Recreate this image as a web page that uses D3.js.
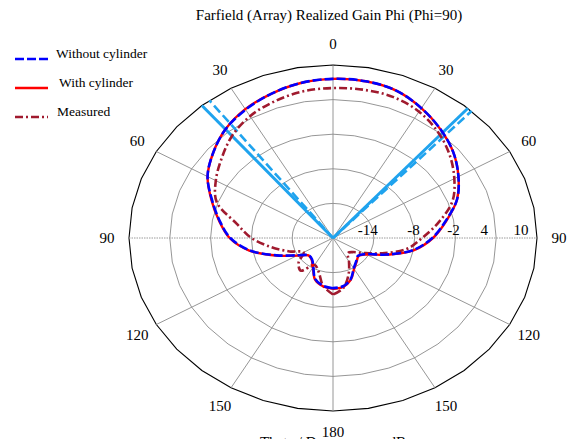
<!DOCTYPE html>
<html><head><meta charset="utf-8">
<script src="https://cdn.jsdelivr.net/npm/d3@7"></script>
<style>
html,body{margin:0;padding:0;background:#fff;}
text{font-family:"Liberation Serif","Times New Roman",serif;fill:#000;}
</style></head>
<body>
<svg id="chart" width="568" height="439"></svg>
<script>
// ---- data ----
const title = "Farfield (Array) Realized Gain Phi (Phi=90)";
const axisTitle = "Theta / Degree   vs.   dB";
const angles = [-180,-170,-160,-150,-140,-130,-120,-110,-100,-90,-80,-70,-60,-50,-40,-30,-20,-10,0,10,20,30,40,50,60,70,80,90,100,110,120,130,140,150,160,170,180];
const withoutCylinder = [-11.3,-11.6,-12.4,-14.2,-15.2,-15.3,-14.0,-11.2,-7.6,-4.9,-3.1,-1.1,1.3,3.0,4.6,5.7,6.6,7.3,7.6,7.6,7.2,6.0,4.6,3.1,1.3,-0.6,-3.2,-5.4,-8.0,-11.6,-14.4,-15.2,-14.7,-13.9,-12.4,-11.5,-11.3];
const withCylinder = [-11.2,-11.5,-12.3,-14.1,-15.1,-15.3,-13.9,-11.1,-7.5,-4.8,-3.0,-1.0,1.3,3.0,4.6,5.8,6.6,7.3,7.6,7.6,7.2,6.0,4.6,3.1,1.3,-0.6,-3.1,-5.3,-7.9,-11.5,-14.3,-15.1,-14.6,-13.8,-12.3,-11.4,-11.2];
const measured = [-10.2,-11.6,-13.8,-14.6,-12.6,-13.4,-15.0,-13.2,-10.8,-8.0,-5.6,-1.8,-0.1,1.4,3.1,4.4,5.2,5.8,6.0,6.1,6.0,5.3,4.0,2.4,0.6,-1.3,-4.2,-6.9,-9.0,-12.3,-14.8,-16.2,-16.6,-15.3,-13.3,-11.2,-10.2];
const ringValues = [-14,-8,-2,4,10];
const spokeAngles = [0,30,60,90,120,150,180,-30,-60,-90,-120,-150];
const angleLabels = ["0","30","60","90","120","150","180","30","60","90","120","150"];
const beamSolid = [-40,41.4];
const beamDashed = [-37.3,42.8];
const legendNames = ["Without cylinder","With cylinder","Measured"];

// ---- layout ----
const W = 568, H = 439;
const cx = 333, cy = 238, RX = 204, RY = 173;
const svg = d3.select("#chart");
svg.append("rect").attr("width",W).attr("height",H).attr("fill","#fff");

const r = d3.scaleLinear().domain([-20,10]).range([0,1]).clamp(true);
const rad = d => d*Math.PI/180;
const px = (a,v) => cx + RX*r(v)*Math.sin(rad(a));
const py = (a,v) => cy - RY*r(v)*Math.cos(rad(a));

// grid rings (polygonal, 10 degree segments)
const ringAngles = d3.range(0,361,10);
const ringLine = d3.line().x(a=>a[0]).y(a=>a[1]);
ringValues.forEach((v,i)=>{
  const pts = ringAngles.map(a=>[px(a,v),py(a,v)]);
  svg.append("path").attr("d",ringLine(pts)+"Z")
    .attr("fill","none")
    .attr("stroke", i===ringValues.length-1 ? "#000" : "#8a8a8a")
    .attr("stroke-width", i===ringValues.length-1 ? 1.1 : 0.9);
});

// spokes
spokeAngles.forEach(a=>{
  if (a===90 || a===-90) return;
  svg.append("line")
    .attr("x1",cx).attr("y1",cy)
    .attr("x2",px(a,10)).attr("y2",py(a,10))
    .attr("stroke","#8a8a8a").attr("stroke-width",0.9);
});
// horizontal axis (dotted)
svg.append("line")
  .attr("x1",px(-90,10)).attr("y1",cy).attr("x2",px(90,10)).attr("y2",cy)
  .attr("stroke","#9a9a9a").attr("stroke-width",1).attr("stroke-dasharray","1.5,1");

// angle labels
spokeAngles.forEach((a,i)=>{
  svg.append("text")
    .attr("x", cx + (RX+22)*Math.sin(rad(a)))
    .attr("y", cy - (RY+21)*Math.cos(rad(a)))
    .attr("text-anchor","middle").attr("dominant-baseline","central")
    .attr("font-size",15).text(angleLabels[i]);
});

// ring labels on the 90 degree axis
ringValues.forEach((v,i)=>{
  const off = [-6,-1,-2,-12,-16][i];
  svg.append("text")
    .attr("x", px(90,v)+off).attr("y", cy-3)
    .attr("text-anchor","middle")
    .attr("font-size",15).text(String(v));
});

// beam lines
const beamColor = "#1fa3ee";
beamSolid.forEach(a=>{
  svg.append("line").attr("x1",cx).attr("y1",cy)
    .attr("x2",px(a,10)).attr("y2",py(a,10))
    .attr("stroke",beamColor).attr("stroke-width",3);
});
beamDashed.forEach(a=>{
  svg.append("line").attr("x1",cx).attr("y1",cy)
    .attr("x2",px(a,10)).attr("y2",py(a,10))
    .attr("stroke",beamColor).attr("stroke-width",2.6).attr("stroke-dasharray","9,4");
});

// curves
const curve = d3.line()
  .x(d=>px(d[0],d[1])).y(d=>py(d[0],d[1]))
  .curve(d3.curveCatmullRom.alpha(0.5));
const zip = vals => angles.map((a,i)=>[a,vals[i]]);

const measColor = "#a01a2e";
svg.append("path").attr("d",curve(zip(measured)))
  .attr("fill","none").attr("stroke",measColor).attr("stroke-width",2.6)
  .attr("stroke-dasharray","8,3,2,3");
svg.append("path").attr("d",curve(zip(withCylinder)))
  .attr("fill","none").attr("stroke","#ff0000").attr("stroke-width",2.4);
svg.append("path").attr("d",curve(zip(withoutCylinder)))
  .attr("fill","none").attr("stroke","#0000ff").attr("stroke-width",2.6)
  .attr("stroke-dasharray","9,3");

// title
svg.append("text").attr("x",329).attr("y",20).attr("text-anchor","middle")
  .attr("font-size",15).text(title);
// axis title (partly below the picture edge, as in the reference)
svg.append("text").attr("x",333).attr("y",447).attr("text-anchor","middle")
  .attr("font-size",15).style("white-space","pre").text(axisTitle);

// legend
const legY = [59,88,117];
const legStyles = [
  {c:"#0000ff",w:2.6,d:"9,3"},
  {c:"#ff0000",w:2.4,d:null},
  {c:measColor,w:2.6,d:"8,3,2,3"}
];
const legTextX = [56,59,57];
legendNames.forEach((n,i)=>{
  const s = legStyles[i];
  const l = svg.append("line").attr("x1",15).attr("x2",48)
    .attr("y1",legY[i]).attr("y2",legY[i])
    .attr("stroke",s.c).attr("stroke-width",s.w);
  if (s.d) l.attr("stroke-dasharray",s.d);
  svg.append("text").attr("x",legTextX[i]).attr("y",legY[i]-1)
    .attr("font-size",13.5).text(n);
});
</script>
</body></html>
